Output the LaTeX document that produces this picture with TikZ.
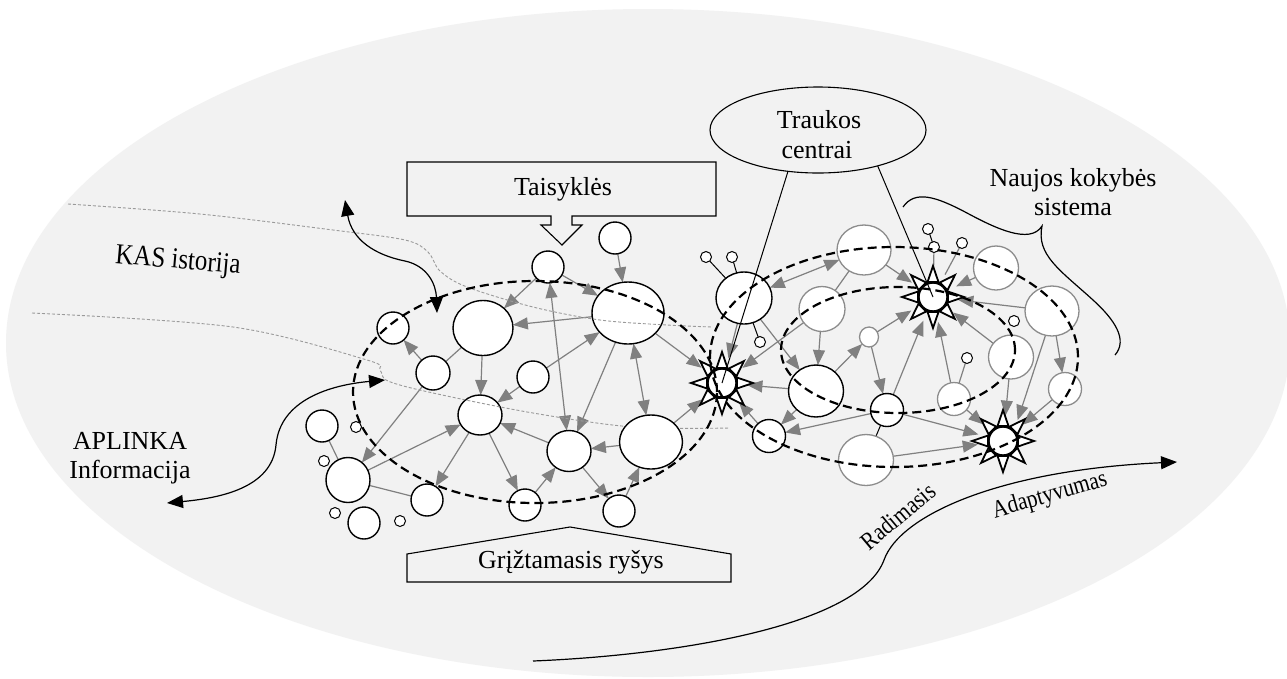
\documentclass[tikz,border=0pt]{standalone}
\usepackage{fontspec}
\setmainfont{Liberation Serif}
\usetikzlibrary{shapes.geometric,arrows.meta}
\pgfdeclarelayer{bg}
\pgfdeclarelayer{edges}
\pgfdeclarelayer{rays}
\pgfdeclarelayer{fg}
\pgfsetlayers{bg,edges,rays,main,fg}
\definecolor{paper}{HTML}{F2F2F2}
\definecolor{edgegray}{HTML}{808080}
\definecolor{rimgray}{HTML}{8C8C8C}
\definecolor{histgray}{HTML}{9A9A9A}

\begin{document}
\begin{tikzpicture}[x=1pt,y=-1pt,
  every node/.style={inner sep=0pt, outer sep=0pt},
  lbl/.style={font=\fontsize{26}{30}\selectfont},
  bn/.style 2 args={ellipse, draw=black, line width=1.4pt, fill=white,
    minimum width=#1pt, minimum height=#2pt},
  gn/.style 2 args={ellipse, draw=rimgray, line width=1.3pt, fill=white,
    minimum width=#1pt, minimum height=#2pt},
  dot/.style={circle, draw=black, line width=1pt, fill=white, minimum size=11pt},
  sun/.style={circle, draw=black, line width=2.4pt, fill=white,
    minimum size=29pt, outer sep=11pt},
  gtip/.tip={Triangle[length=15pt,width=12pt]},
  btip/.tip={Triangle[length=16pt,width=13pt]},
  ga/.style={draw=edgegray, line width=1.2pt, -{gtip}},
  gaa/.style={draw=edgegray, line width=1.2pt, {gtip}-{gtip}},
  gl/.style={draw=edgegray, line width=1.2pt},
  bl/.style={draw=black, line width=1pt},
  hist/.style={draw=histgray, line width=0.9pt, dash pattern=on 3pt off 2pt},
  zone/.style={draw=black, line width=2.2pt, dash pattern=on 9pt off 5pt},
  curve/.style={draw=black, line width=1.2pt},
  box/.style={draw=black, line width=1.1pt}]

\useasboundingbox (0,0) rectangle (1287,678);

% backdrop
\begin{pgfonlayer}{bg}
  \fill[white] (0,0) rectangle (1287,678);
  \fill[paper] (648,343) ellipse [x radius=642pt, y radius=334pt];
\end{pgfonlayer}

% ---------- left cluster ----------
\node[bn={32}{32}] (n1) at (548,267) {};
\node[bn={32}{32}] (n2) at (615,238) {};
\node[bn={72}{62}] (n3) at (628,313) {};
\node[bn={60}{55}] (n4) at (483,328) {};
\node[bn={32}{32}] (n5) at (393,328) {};
\node[bn={34}{34}] (n6) at (433,373) {};
\node[bn={32}{32}] (n7) at (533,377) {};
\node[bn={44}{40}] (n8) at (480,415) {};
\node[bn={44}{41}] (n9) at (569,451) {};
\node[bn={32}{32}] (n11) at (322,426) {};
\node[bn={44}{45}] (n12) at (348,480) {};
\node[bn={32}{32}] (n13) at (427,500) {};
\node[bn={32}{32}] (n14) at (525,505) {};
\node[bn={32}{32}] (n15) at (619,511) {};
\node[bn={32}{32}] (n16) at (364,523) {};
\node[dot] (s1) at (356,427) {};
\node[dot] (s2) at (324,461) {};
\node[dot] (s3) at (335,513) {};
\node[dot] (s4) at (400,521) {};

% history traces
\draw[hist] plot[smooth, tension=0.55] coordinates {(68,204) (200,214) (333,230)
  (405,240) (428,252) (440,271) (467,287) (533,307) (600,320) (667,325) (712,327)};
\draw[hist] plot[smooth, tension=0.55] coordinates {(32,313) (233,327) (367,360)
  (380,370) (388,381) (433,393) (533,413) (633,427) (730,428)};

\node[bn={63}{54}] (n10) at (651,442) {};

% ---------- right cluster ----------
\node[bn={56}{52}] (r1) at (744,298) {};
\node[gn={54}{50}] (r2) at (864,250) {};
\node[gn={46}{45}] (r3) at (822,309) {};
\node[gn={19}{20}] (r4) at (869,337) {};
\node[bn={55}{52}] (r5) at (816,391) {};
\node[bn={33}{33}] (r6) at (887,410) {};
\node[bn={33}{33}] (r7) at (769,436) {};
\node[gn={55}{51}] (r8) at (866,460) {};
\node[gn={33}{33}] (r9) at (954,399) {};
\node[gn={45}{44}] (r10) at (1011,357) {};
\node[gn={45}{44}] (r11) at (996,268) {};
\node[gn={54}{50}] (r12) at (1052,311) {};
\node[gn={33}{33}] (r13) at (1065,389) {};
\node[dot] (t1) at (706,257) {};
\node[dot] (t2) at (732,257) {};
\node[dot] (t3) at (760,342) {};
\node[dot] (t4) at (928,229) {};
\node[dot] (t5) at (934,247) {};
\node[dot] (t6) at (962,243) {};
\node[dot] (t7) at (967,358) {};
\node[dot] (t8) at (1014,321) {};

% attractors
\node[sun] (sL) at (722,383) {};
\node[sun] (sT) at (933,297) {};
\node[sun] (sB) at (1003,441) {};

\begin{pgfonlayer}{rays}
  \foreach \s in {sL,sT,sB} {
    \begin{scope}[shift={(\s.center)}]
      \foreach \a in {0,45,...,315}
        \draw[line width=1.8pt, fill=white, line join=miter]
          ({\a-20}:16) -- (\a:31) -- ({\a+20}:16) -- cycle;
    \end{scope}
  }
\end{pgfonlayer}

% ---------- connections ----------
\begin{pgfonlayer}{edges}
  \draw[ga] (n2) -- (n3);
  \draw[ga] (n1) -- (n3);
  \draw[ga] (n1) -- (n4);
  \draw[ga] (n3) -- (n4);
  \draw[gaa] (n1) -- (n9);
  \draw[ga] (n3) -- (n9);
  \draw[gaa] (n3) -- (n10);
  \draw[ga] (n3) -- (sL);
  \draw[ga] (n10) -- (sL);
  \draw[ga] (n7) -- (n3);
  \draw[ga] (n4) -- (n8);
  \draw[ga] (n7) -- (n8);
  \draw[ga] (n6) -- (n5);
  \draw[gl] (n4) -- (n6);
  \draw[ga] (n6) -- (n12);
  \draw[ga] (n12) -- (n8);
  \draw[gl] (n12) -- (n13);
  \draw[gl] (n11) -- (n12);
  \draw[ga] (n8) -- (n13);
  \draw[ga] (n8) -- (n14);
  \draw[ga] (n9) -- (n8);
  \draw[ga] (n10) -- (n9);
  \draw[ga] (n14) -- (n9);
  \draw[ga] (n9) -- (n15);
  \draw[ga] (n15) -- (n10);

  \draw[gaa] (r1) -- (r2);
  \draw[ga] (r2) -- (sT);
  \draw[gl] (r2) -- (r3);
  \draw[ga] (r3) -- (r5);
  \draw[ga] (r3) -- (sL);
  \draw[ga] (r1) -- (r5);
  \draw[ga] (r1) -- (sL);
  \draw[ga] (r5) -- (sL);
  \draw[ga] (r5) -- (r4);
  \draw[ga] (r5) -- (r7);
  \draw[ga] (r4) -- (r6);
  \draw[ga] (r4) -- (sT);
  \draw[ga] (r6) -- (sT);
  \draw[ga] (r6) -- (r7);
  \draw[ga] (r6) -- (sB);
  \draw[bl] (r6) -- (r8);
  \draw[ga] (r8) -- (sB);
  \draw[ga] (r7) -- (sL);
  \draw[ga] (r9) -- (sT);
  \draw[ga] (r9) -- (sB);
  \draw[gl] (r9) -- (t7);
  \draw[ga] (r10) -- (sT);
  \draw[ga] (r10) -- (sB);
  \draw[ga] (r11) -- (sT);
  \draw[ga] (r12) -- (sT);
  \draw[ga] (r12) -- (r13);
  \draw[ga] (r12.255) -- (sB.55);
  \draw[ga] (r13) -- (sB);
  \draw[bl] (r1) -- (t1);
  \draw[bl] (r1) -- (t2);
  \draw[bl] (r1) -- (t3);
  \draw[bl] (t4) -- (t5);
  \draw[gl] (t5) -- (sT);
  \draw[gl] (t6) -- (sT);
\end{pgfonlayer}

% ---------- labels and overlays ----------
\begin{pgfonlayer}{fg}
  % system boundaries
  \draw[zone] (535,392) ellipse [x radius=182pt, y radius=111pt];
  \draw[zone] (894,357) ellipse [x radius=184pt, y radius=110pt];
  \draw[zone] (898,350) ellipse [x radius=117pt, y radius=63pt];

  % rules callout
  \draw[box] (407,162) -- (716,162) -- (716,216) -- (572,216) -- (572,225)
    -- (582,225) -- (562,245) -- (541,225) -- (551,225) -- (551,216)
    -- (407,216) -- cycle;
  \node[lbl, anchor=base] (rules) at (563,195) {Taisyklės};

  % feedback callout
  \draw[box] (407,582) -- (407,554) -- (570,527) -- (731,554) -- (731,582) -- cycle;
  \node[lbl, anchor=base] (feedback) at (571,568) {Grįžtamasis ryšys};

  % attractor label
  \node[ellipse, draw=black, line width=1.1pt, minimum width=216pt,
    minimum height=86pt] (tr) at (818,130) {};
  \node[lbl, anchor=base] (tr1) at (819,128) {Traukos};
  \node[lbl, anchor=base] (tr2) at (817,158) {centrai};
  \draw[bl] (tr.234) -- (sL.center);
  \draw[bl] (tr.329) -- (sT.center);

  % new quality system
  \node[lbl, anchor=base] (nq1) at (1073,186) {Naujos kokybės};
  \node[lbl, anchor=base] (nq2) at (1073,215) {sistema};
  \draw[curve] (903,207) .. controls (915,190) and (935,196) .. (967,213)
    .. controls (995,228) and (1030,245) .. (1042,226)
    .. controls (1036,255) and (1060,270) .. (1093,300)
    .. controls (1115,320) and (1128,340) .. (1115,355);

  % environment
  \node[lbl, anchor=base] (env1) at (130,449) {APLINKA};
  \node[lbl, anchor=base] (env2) at (130,478) {Informacija};
  \coordinate (apA) at (167,503);
  \coordinate (apB) at (385,380);
  \draw[curve, {btip}-{btip}] (apA) .. controls (220,498) and (272,488) .. (276,445)
    .. controls (280,400) and (330,385) .. (apB);

  % history
  \node[font=\fontsize{29}{32}\selectfont, rotate=-5] (kas) at (178,262)
    {\scalebox{0.86}[1]{KAS istorija}};
  \coordinate (kA) at (345,200);
  \coordinate (kB) at (437,313);
  \draw[curve, {btip}-{btip}] (kA) .. controls (352,240) and (375,255) .. (405,261)
    .. controls (428,266) and (436,285) .. (kB);

  % emergence and adaptivity
  \coordinate (gA) at (533,661);
  \coordinate (gB) at (1177,462);
  \draw[curve, -{btip}] (gA) .. controls (680,655) and (860,625) .. (884,560)
    .. controls (900,515) and (1000,470) .. (gB);
  \node[font=\fontsize{25}{28}\selectfont, rotate=40] (em) at (898,516)
    {\scalebox{0.85}[1]{Radimasis}};
  \node[font=\fontsize{25}{28}\selectfont, rotate=16] (ad) at (1050,496)
    {\scalebox{0.85}[1]{Adaptyvumas}};
\end{pgfonlayer}

\end{tikzpicture}
\end{document}
